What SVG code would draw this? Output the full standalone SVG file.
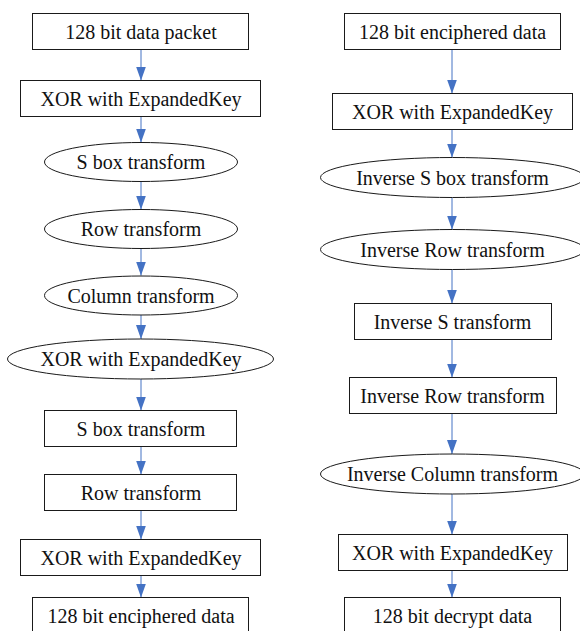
<svg xmlns="http://www.w3.org/2000/svg" width="580" height="631" viewBox="0 0 580 631">
  <defs>
    <style>
      .box { fill: #ffffff; stroke: #1a1a1a; stroke-width: 1; }
      .lbl { font-size: 20px; fill: #111111; text-anchor: middle; }
      .edge { stroke: #4472C4; stroke-width: 1; fill: none; }
    </style>
    <marker id="arrow" markerUnits="userSpaceOnUse" markerWidth="14" markerHeight="10" refX="14" refY="5" orient="auto">
      <path d="M0,0 L14,5 L0,10 z" fill="#4472C4"/>
    </marker>
  </defs>
  <rect width="580" height="631" fill="#ffffff"/>

  <!-- connectors -->
  <g id="connectors">
    <!-- encryption chain -->
    <line class="edge" x1="141" y1="49.5" x2="141" y2="80.5" marker-end="url(#arrow)"/>
    <line class="edge" x1="141" y1="116.5" x2="141" y2="142.5" marker-end="url(#arrow)"/>
    <line class="edge" x1="141" y1="181.5" x2="141" y2="209.5" marker-end="url(#arrow)"/>
    <line class="edge" x1="141" y1="248.5" x2="141" y2="275.5" marker-end="url(#arrow)"/>
    <line class="edge" x1="141" y1="315" x2="141" y2="339" marker-end="url(#arrow)"/>
    <line class="edge" x1="141" y1="379" x2="141" y2="410.5" marker-end="url(#arrow)"/>
    <line class="edge" x1="141" y1="446.5" x2="141" y2="474.5" marker-end="url(#arrow)"/>
    <line class="edge" x1="141" y1="510.5" x2="141" y2="539.5" marker-end="url(#arrow)"/>
    <line class="edge" x1="141" y1="575.5" x2="141" y2="597.5" marker-end="url(#arrow)"/>
    <!-- decryption chain -->
    <line class="edge" x1="452" y1="49.5" x2="452" y2="93.5" marker-end="url(#arrow)"/>
    <line class="edge" x1="452" y1="129.5" x2="452" y2="157.5" marker-end="url(#arrow)"/>
    <line class="edge" x1="452" y1="197.5" x2="452" y2="229.5" marker-end="url(#arrow)"/>
    <line class="edge" x1="452" y1="269.5" x2="452" y2="303.5" marker-end="url(#arrow)"/>
    <line class="edge" x1="452" y1="339.5" x2="452" y2="377.5" marker-end="url(#arrow)"/>
    <line class="edge" x1="452" y1="413.5" x2="452" y2="454" marker-end="url(#arrow)"/>
    <line class="edge" x1="452" y1="494" x2="452" y2="534.5" marker-end="url(#arrow)"/>
    <line class="edge" x1="452" y1="570.5" x2="452" y2="597.5" marker-end="url(#arrow)"/>
  </g>

  <g font-family="Liberation Serif, Tinos, DejaVu Serif, Times New Roman, serif">
  <!-- encryption nodes -->
  <g id="enc-input">
    <rect class="box" x="32.5" y="13.5" width="216" height="36"/>
    <text class="lbl" x="141" y="38.5">128 bit data packet</text>
  </g>
  <g id="enc-xor-1">
    <rect class="box" x="20.5" y="80.5" width="240" height="36"/>
    <text class="lbl" x="141" y="105.5">XOR with ExpandedKey</text>
  </g>
  <g id="enc-sbox-1">
    <ellipse class="box" cx="141" cy="162" rx="96.5" ry="19.5"/>
    <text class="lbl" x="141" y="169">S box transform</text>
  </g>
  <g id="enc-row-1">
    <ellipse class="box" cx="141" cy="229" rx="96.5" ry="19.5"/>
    <text class="lbl" x="141" y="236">Row transform</text>
  </g>
  <g id="enc-column">
    <ellipse class="box" cx="141" cy="295.5" rx="96.5" ry="19.5"/>
    <text class="lbl" x="141" y="302.5">Column transform</text>
  </g>
  <g id="enc-xor-2">
    <ellipse class="box" cx="140.5" cy="359" rx="133" ry="20"/>
    <text class="lbl" x="141" y="366">XOR with ExpandedKey</text>
  </g>
  <g id="enc-sbox-2">
    <rect class="box" x="44.5" y="410.5" width="192" height="36"/>
    <text class="lbl" x="141" y="435.5">S box transform</text>
  </g>
  <g id="enc-row-2">
    <rect class="box" x="44.5" y="474.5" width="192" height="36"/>
    <text class="lbl" x="141" y="499.5">Row transform</text>
  </g>
  <g id="enc-xor-3">
    <rect class="box" x="20.5" y="539.5" width="240" height="36"/>
    <text class="lbl" x="141" y="564.5">XOR with ExpandedKey</text>
  </g>
  <g id="enc-output">
    <rect class="box" x="32.5" y="597.5" width="216" height="36"/>
    <text class="lbl" x="141" y="622.5">128 bit enciphered data</text>
  </g>

  <!-- decryption nodes -->
  <g id="dec-input">
    <rect class="box" x="344.5" y="13.5" width="216" height="36"/>
    <text class="lbl" x="452.5" y="38.5">128 bit enciphered data</text>
  </g>
  <g id="dec-xor-1">
    <rect class="box" x="332.5" y="93.5" width="240" height="36"/>
    <text class="lbl" x="452.5" y="118.5">XOR with ExpandedKey</text>
  </g>
  <g id="dec-inv-sbox">
    <ellipse class="box" cx="452.5" cy="177.5" rx="132" ry="20"/>
    <text class="lbl" x="452.5" y="184.5">Inverse S box transform</text>
  </g>
  <g id="dec-inv-row-1">
    <ellipse class="box" cx="452.5" cy="249.5" rx="132" ry="20"/>
    <text class="lbl" x="452.5" y="256.5">Inverse Row transform</text>
  </g>
  <g id="dec-inv-s">
    <rect class="box" x="354.5" y="303.5" width="197" height="36"/>
    <text class="lbl" x="452.5" y="328.5">Inverse S transform</text>
  </g>
  <g id="dec-inv-row-2">
    <rect class="box" x="349.5" y="377.5" width="207" height="36"/>
    <text class="lbl" x="452.5" y="402.5">Inverse Row transform</text>
  </g>
  <g id="dec-inv-column">
    <ellipse class="box" cx="452.5" cy="474" rx="132" ry="20"/>
    <text class="lbl" x="452.5" y="481">Inverse Column transform</text>
  </g>
  <g id="dec-xor-2">
    <rect class="box" x="338.5" y="534.5" width="229" height="36"/>
    <text class="lbl" x="452.5" y="559.5">XOR with ExpandedKey</text>
  </g>
  <g id="dec-output">
    <rect class="box" x="344.5" y="597.5" width="216" height="36"/>
    <text class="lbl" x="452.5" y="622.5">128 bit decrypt data</text>
  </g>
  </g>
</svg>
